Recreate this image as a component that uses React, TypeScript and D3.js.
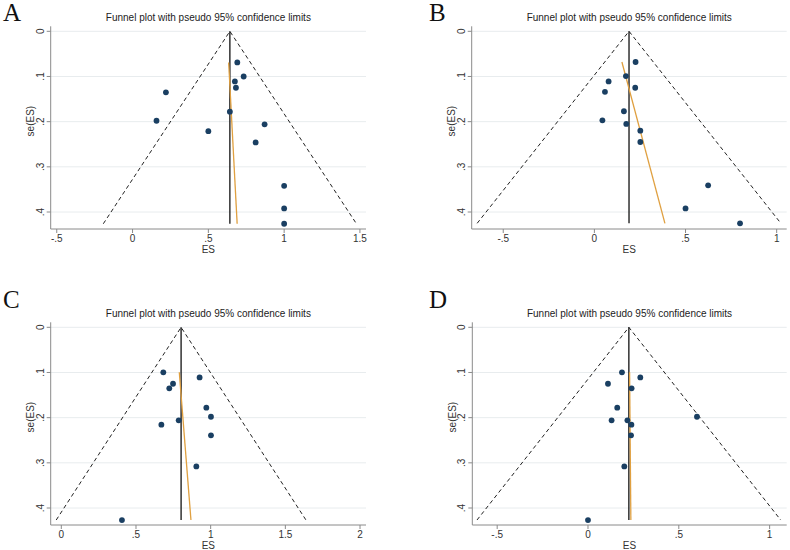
import React from "react";
import * as d3 from "d3";

// ---------- DATA ----------
const titleText = "Funnel plot with pseudo 95% confidence limits";
const panelLetters = ["A", "B", "C", "D"];

const esA = [0.691, 0.733, 0.675, 0.682, 0.22, 0.642, 0.158, 0.871, 0.5, 0.812, 1.0, 1.0, 1.0];
const seA = [0.069, 0.1, 0.111, 0.125, 0.135, 0.178, 0.198, 0.206, 0.221, 0.246, 0.342, 0.392, 0.426];
const pooledA = 0.642;
const eggerA = [0.634, 0.69];
const xTicksA = [-0.5, 0, 0.5, 1, 1.5];
const xDomainA = [-0.54, 1.54];

const esB = [0.226, 0.173, 0.078, 0.224, 0.058, 0.162, 0.044, 0.175, 0.252, 0.252, 0.624, 0.5, 0.799];
const seB = [0.068, 0.099, 0.111, 0.125, 0.134, 0.177, 0.197, 0.205, 0.22, 0.245, 0.341, 0.392, 0.425];
const pooledB = 0.19;
const eggerB = [0.151, 0.387];
const xTicksB = [-0.5, 0, 0.5, 1];
const xDomainB = [-0.673, 1.055];

const esC = [0.683, 0.926, 0.748, 0.723, 0.971, 1.002, 0.786, 0.67, 1.002, 0.904, 0.406];
const seC = [0.0996, 0.111, 0.125, 0.135, 0.178, 0.198, 0.206, 0.2155, 0.239, 0.308, 0.4266];
const pooledC = 0.802;
const eggerC = [0.79, 0.868];
const xTicksC = [0, 0.5, 1, 1.5, 2];
const xDomainC = [-0.071, 2.04];

const esD = [0.187, 0.288, 0.11, 0.24, 0.161, 0.6, 0.13, 0.217, 0.239, 0.237, 0.2, 0.0];
const seD = [0.0996, 0.111, 0.125, 0.135, 0.178, 0.198, 0.206, 0.206, 0.2155, 0.239, 0.308, 0.4266];
const pooledD = 0.225;
const eggerD = [0.229, 0.236];
const xTicksD = [-0.5, 0, 0.5, 1];
const xDomainD = [-0.637, 1.094];

const yTicks = [0, 0.1, 0.2, 0.3, 0.4];
const yDomain = [0, 0.4376];

// ---------- HELPERS ----------
const fmt = (v: number) => {
  if (v === 0) return "0";
  let s = String(v);
  s = s.replace(/^0\./, ".").replace(/^-0\./, "-.");
  return s;
};

const FONT = "'Liberation Sans', Arial, sans-serif";

type PanelProps = {
  letter: string;
  es: number[];
  se: number[];
  pooled: number;
  egger: number[];
  xTicks: number[];
  xDomain: number[];
  left: number;
  right: number;
  top: number;
  bottom: number;
  letterX: number;
  letterY: number;
};

function Panel(p: PanelProps) {
  const x = d3.scaleLinear().domain(p.xDomain).range([p.left, p.right]);
  const y = d3.scaleLinear().domain(yDomain).range([p.top, p.bottom]);
  const seMax = d3.max(p.se) as number;
  const seMin = d3.min(p.se) as number;
  const half = 1.96 * seMax;
  const midX = (p.left + p.right) / 2;
  const midY = (p.top + p.bottom) / 2;
  const line = d3.line<[number, number]>().x((d) => x(d[0])).y((d) => y(d[1]));

  return (
    <g>
      <text x={p.letterX} y={p.letterY} fontFamily="'Liberation Serif', 'Times New Roman', serif" fontSize={25} fill="#111">
        {p.letter}
      </text>
      <text x={midX} y={p.top - 10.5} textAnchor="middle" fontFamily={FONT} fontSize={10} fill="#222">
        {titleText}
      </text>
      {/* grid */}
      {yTicks.map((t) => (
        <line key={"g" + t} x1={p.left} x2={p.right} y1={y(t)} y2={y(t)} stroke="#e8ecee" strokeWidth={1} />
      ))}
      {/* axes */}
      <line x1={p.left} x2={p.left} y1={p.top - 5} y2={p.bottom} stroke="#8a8a8a" strokeWidth={1} />
      <line x1={p.left} x2={p.right} y1={p.bottom} y2={p.bottom} stroke="#8a8a8a" strokeWidth={1} />
      {yTicks.map((t) => (
        <g key={"y" + t}>
          <line x1={p.left - 4} x2={p.left} y1={y(t)} y2={y(t)} stroke="#8a8a8a" strokeWidth={1} />
          <text
            transform={`translate(${p.left - 7},${y(t)}) rotate(-90)`}
            textAnchor="middle"
            fontFamily={FONT}
            fontSize={10}
            fill="#333"
          >
            {fmt(t)}
          </text>
        </g>
      ))}
      {p.xTicks.map((t) => (
        <g key={"x" + t}>
          <line x1={x(t)} x2={x(t)} y1={p.bottom} y2={p.bottom + 4} stroke="#8a8a8a" strokeWidth={1} />
          <text x={x(t)} y={p.bottom + 12.5} textAnchor="middle" fontFamily={FONT} fontSize={10} fill="#333">
            {fmt(t)}
          </text>
        </g>
      ))}
      <text x={midX} y={p.bottom + 24} textAnchor="middle" fontFamily={FONT} fontSize={10} fill="#333">
        ES
      </text>
      <text
        transform={`translate(${p.left - 16.5},${midY - 9}) rotate(-90)`}
        textAnchor="middle"
        fontFamily={FONT}
        fontSize={10}
        fill="#333"
      >
        se(ES)
      </text>
      {/* funnel */}
      <path
        d={line([[p.pooled - half, seMax], [p.pooled, 0], [p.pooled + half, seMax]]) || ""}
        fill="none"
        stroke="#222"
        strokeWidth={1}
        strokeDasharray="4,3"
      />
      <path d={line([[p.pooled, 0], [p.pooled, seMax]]) || ""} stroke="#111" strokeWidth={1.3} fill="none" />
      <path
        d={line([[p.egger[0], seMin], [p.egger[1], seMax]]) || ""}
        stroke="#e0a040"
        strokeWidth={1.3}
        fill="none"
      />
      {p.es.map((v, i) => (
        <circle key={"p" + i} cx={x(v)} cy={y(p.se[i])} r={2.9} fill="#1a3f62" />
      ))}
    </g>
  );
}

export default function App() {
  const topRowTop = 31.3;
  const topRowBottom = 229;
  const botRowTop = 327.3;
  const botRowBottom = 525;
  return (
    <svg width={790} height={550} style={{ position: "absolute", left: 0, top: 0, background: "#fff" }}>
      <rect width={790} height={550} fill="#fff" />
      <Panel letter={panelLetters[0]} es={esA} se={seA} pooled={pooledA} egger={eggerA} xTicks={xTicksA} xDomain={xDomainA}
        left={50.7} right={366} top={topRowTop} bottom={topRowBottom} letterX={3} letterY={21} />
      <Panel letter={panelLetters[1]} es={esB} se={seB} pooled={pooledB} egger={eggerB} xTicks={xTicksB} xDomain={xDomainB}
        left={471.7} right={786.7} top={topRowTop} bottom={topRowBottom} letterX={429} letterY={21} />
      <Panel letter={panelLetters[2]} es={esC} se={seC} pooled={pooledC} egger={eggerC} xTicks={xTicksC} xDomain={xDomainC}
        left={50.7} right={366} top={botRowTop} bottom={botRowBottom} letterX={3} letterY={307.5} />
      <Panel letter={panelLetters[3]} es={esD} se={seD} pooled={pooledD} egger={eggerD} xTicks={xTicksD} xDomain={xDomainD}
        left={472.3} right={786.7} top={botRowTop} bottom={botRowBottom} letterX={429} letterY={307.5} />
    </svg>
  );
}
